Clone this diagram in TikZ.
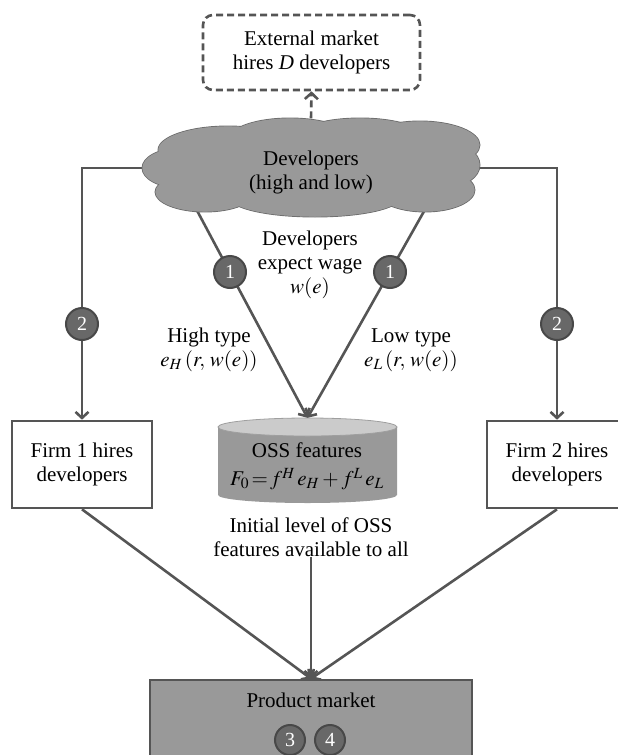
\documentclass[tikz,border=0pt]{standalone}
\usepackage{mathptmx}
\usepackage{fontspec}
\setmainfont{Liberation Serif}
\newfontfamily\figfont{Liberation Serif}
\usetikzlibrary{arrows.meta}
\definecolor{ln}{HTML}{555555}
\definecolor{cl}{HTML}{999999}
\definecolor{dot}{HTML}{686868}
\definecolor{dotb}{HTML}{484848}
\definecolor{cyltop}{HTML}{CBCBCB}
\definecolor{cloudb}{HTML}{6E6E6E}
\begin{document}
\begin{tikzpicture}[x=1pt,y=-1pt,
  font=\figfont\fontsize{21}{24}\selectfont,
  conn/.style={draw=ln, line width=2.6pt, -{Straight Barb[length=6pt,width=13pt]}},
  numc/.style={circle, fill=dot, draw=dotb, line width=2pt, minimum size=32pt, inner sep=0pt,
     text=white, font=\figfont\fontsize{20}{20}\selectfont},
  numcs/.style={numc, minimum size=30pt},
  firmbox/.style={draw=ln, line width=2.6pt, fill=white, minimum width=140pt, minimum height=87pt,
     align=center, inner sep=0pt},
  txt/.style={align=center, inner sep=0pt}
]
\useasboundingbox (0,0) rectangle (618,755);
\clip (0,0) rectangle (618,755);

% external market
\node[draw=ln, line width=2.6pt, dashed, dash pattern=on 7pt off 4pt, rounded corners=10pt,
      minimum width=217pt, minimum height=75pt, align=center, inner sep=0pt] (ext) at (311.5,52.5)
      {External market\\hires \textit{D} developers};

% cloud placeholder (for anchors)
\node[minimum width=338pt, minimum height=99pt, inner sep=0pt] (dev) at (311,168) {};
\coordinate (hs) at (193,203);
\coordinate (ls) at (427,206);

% firms
\node[firmbox] (f1) at (82,464.5) {Firm 1 hires\\developers};
\node[firmbox] (f2) at (557,464.5) {Firm 2 hires\\developers};

% cylinder
\fill[cl] (218,427) -- (218,495) arc[start angle=180, end angle=0, x radius=89.5, y radius=8] -- (397,427) -- cycle;
\filldraw[fill=cyltop, draw=gray!75, line width=0.8pt] (307.5,427) ellipse[x radius=89.5, y radius=9];
\node[minimum width=179pt, minimum height=85pt, inner sep=0pt] (oss) at (307.5,460.5) {};
\node[txt] (osstxt) at (307,466.5) {OSS features\\[4pt]$F_0\,{=}\,f^H\, e_H + f^L\, e_L$};

\node[txt] (init) at (311,537) {Initial level of OSS\\features available to all};

% product market
\node[draw=ln, line width=2.6pt, fill=cl, minimum width=322pt, minimum height=95pt, inner sep=0pt] (pm) at (311,727.5) {};
\node[txt] (pmtxt) at (311,700) {Product market};

% connectors from cloud
\draw[conn, dashed, dash pattern=on 7pt off 4pt] (dev.north) -- (ext.south);
\draw[conn] (hs) -- (oss.north);
\draw[conn] (ls) -- (oss.north);
\draw[conn] (dev.west) -| (f1.north);
\draw[conn] (dev.east) -| (f2.north);

% cloud drawing
\def\puffs{180/168/38/20, 205/192/50/20, 228/150/70/24, 290/138/60/20, 360/138/65/20,
  420/145/60/24, 448/165/32/22, 425/190/50/22, 315/198/85/19, 311/168/150/35}
\foreach \px/\py/\ra/\rb in \puffs
  \filldraw[fill=cl, draw=cloudb, line width=0.9pt] (\px,\py) ellipse[x radius=\ra, y radius=\rb];
\foreach \px/\py/\ra/\rb in \puffs
  \fill[cl] (\px,\py) ellipse[x radius=\ra-0.5, y radius=\rb-0.5];
\node[txt] (devtxt) at (311,172) {Developers\\(high and low)};

% to product market
\draw[conn] (f1.south) -- (pm.north);
\draw[conn] (f2.south) -- (pm.north);
\draw[conn] (init.south) -- (pm.north);

% labels
\node[txt] (wage) at (310,265) {Developers\\expect wage\\$w(e)$};
\node[txt] (high) at (209,350) {High type\\$e_H\,(r,\, w(e))$};
\node[txt] (low) at (411,350) {Low type\\$e_L\,(r,\, w(e))$};

% numbered circles
\node[numc] (c1a) at (230,272) {1};
\node[numc] (c1b) at (390,272) {1};
\node[numc] (c2a) at (82,324) {2};
\node[numc] (c2b) at (557,324) {2};
\node[numcs] (c3) at (290,740) {3};
\node[numcs] (c4) at (330,740) {4};
\end{tikzpicture}
\end{document}
